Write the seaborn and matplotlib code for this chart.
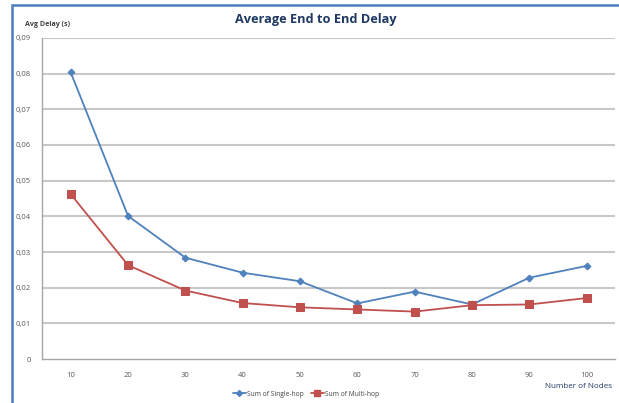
import matplotlib
matplotlib.use("Agg")
import matplotlib.pyplot as plt
import seaborn as sns
import pandas as pd
from matplotlib.patches import Rectangle
from matplotlib.lines import Line2D

nodes = ["10", "20", "30", "40", "50", "60", "70", "80", "90", "100"]
single_hop = [0.0803, 0.0401, 0.0284, 0.0242, 0.0218, 0.0156, 0.0189, 0.0153, 0.0228, 0.0261]
multi_hop = [0.0462, 0.0263, 0.0192, 0.0157, 0.0145, 0.0139, 0.0133, 0.0151, 0.0153, 0.0171]
y_ticks = [0, 0.01, 0.02, 0.03, 0.04, 0.05, 0.06, 0.07, 0.08, 0.09]
y_tick_labels = ["0", "0,01", "0,02", "0,03", "0,04", "0,05", "0,06", "0,07", "0,08", "0,09"]

sns.set_theme(style="white")
plt.rcParams['font.family'] = ['Open Sans', 'DejaVu Sans']

df = pd.DataFrame({"pos": range(len(nodes)), "Sum of Single-hop": single_hop, "Sum of Multi-hop": multi_hop})
long = df.melt(id_vars="pos", var_name="series", value_name="delay")

blue = "#4F81BD"
red = "#C0504D"

fig = plt.figure(figsize=(6.19, 4.03), dpi=100)
ax = fig.add_axes([0.068, 0.109, 0.926, 0.797])

for y in y_ticks[1:]:
    ax.axhline(y, color="#c8c8c8", lw=1.5, zorder=0)

sns.lineplot(data=long[long.series == "Sum of Single-hop"], x="pos", y="delay", color=blue,
             marker="D", markersize=3.5, markeredgecolor=blue, lw=1.3, ax=ax, legend=False, zorder=3)
sns.lineplot(data=long[long.series == "Sum of Multi-hop"], x="pos", y="delay", color=red,
             marker="s", markersize=5.5, markeredgecolor=red, lw=1.3, ax=ax, legend=False, zorder=3)

ax.set_xlim(-0.5, 9.5)
ax.set_ylim(0, 0.09)
ax.set_xticks(range(len(nodes)))
ax.set_xticklabels(nodes, fontsize=5.5, color="#595959")
ax.set_yticks(y_ticks)
ax.set_yticklabels(y_tick_labels, fontsize=5.5, color="#595959")
ax.tick_params(axis="both", length=0, pad=8)
ax.tick_params(axis="x", pad=9)
ax.set_xlabel("")
ax.set_ylabel("")
for s in ["top", "right"]:
    ax.spines[s].set_visible(False)
ax.spines["left"].set_color("#a6a6a6")
ax.spines["bottom"].set_color("#a6a6a6")
ax.spines["left"].set_linewidth(1.0)
ax.spines["bottom"].set_linewidth(1.0)

fig.text(316 / 619, 1 - 20 / 403, "Average End to End Delay", ha="center", va="center",
         fontsize=9.2, fontweight="bold", color="#1F3864")
fig.text(25 / 619, 1 - 25 / 403, "Avg Delay (s)", ha="left", va="center",
         fontsize=5.1, fontweight="bold", color="#404040")
fig.text(612 / 619, 1 - 386 / 403, "Number of Nodes", ha="right", va="center",
         fontsize=5.8, color="#1F3864")

handles = [Line2D([0], [0], color=blue, marker="D", markersize=3, lw=1.3),
           Line2D([0], [0], color=red, marker="s", markersize=4.5, lw=1.3)]
fig.legend(handles, ["Sum of Single-hop", "Sum of Multi-hop"], loc="center",
           bbox_to_anchor=(306 / 619, 1 - 394 / 403), ncol=2, frameon=False,
           fontsize=4.8, handlelength=2.0, columnspacing=1.0, handletextpad=0.2,
           labelcolor="#404040")

fig.patches.append(Rectangle((12 / 619, -0.1), 1.2, 1 - 5 / 403 + 0.1, transform=fig.transFigure,
                             fill=False, edgecolor="#4a7ebb", lw=1.8, zorder=10))

fig.savefig("out.png", dpi=100)
